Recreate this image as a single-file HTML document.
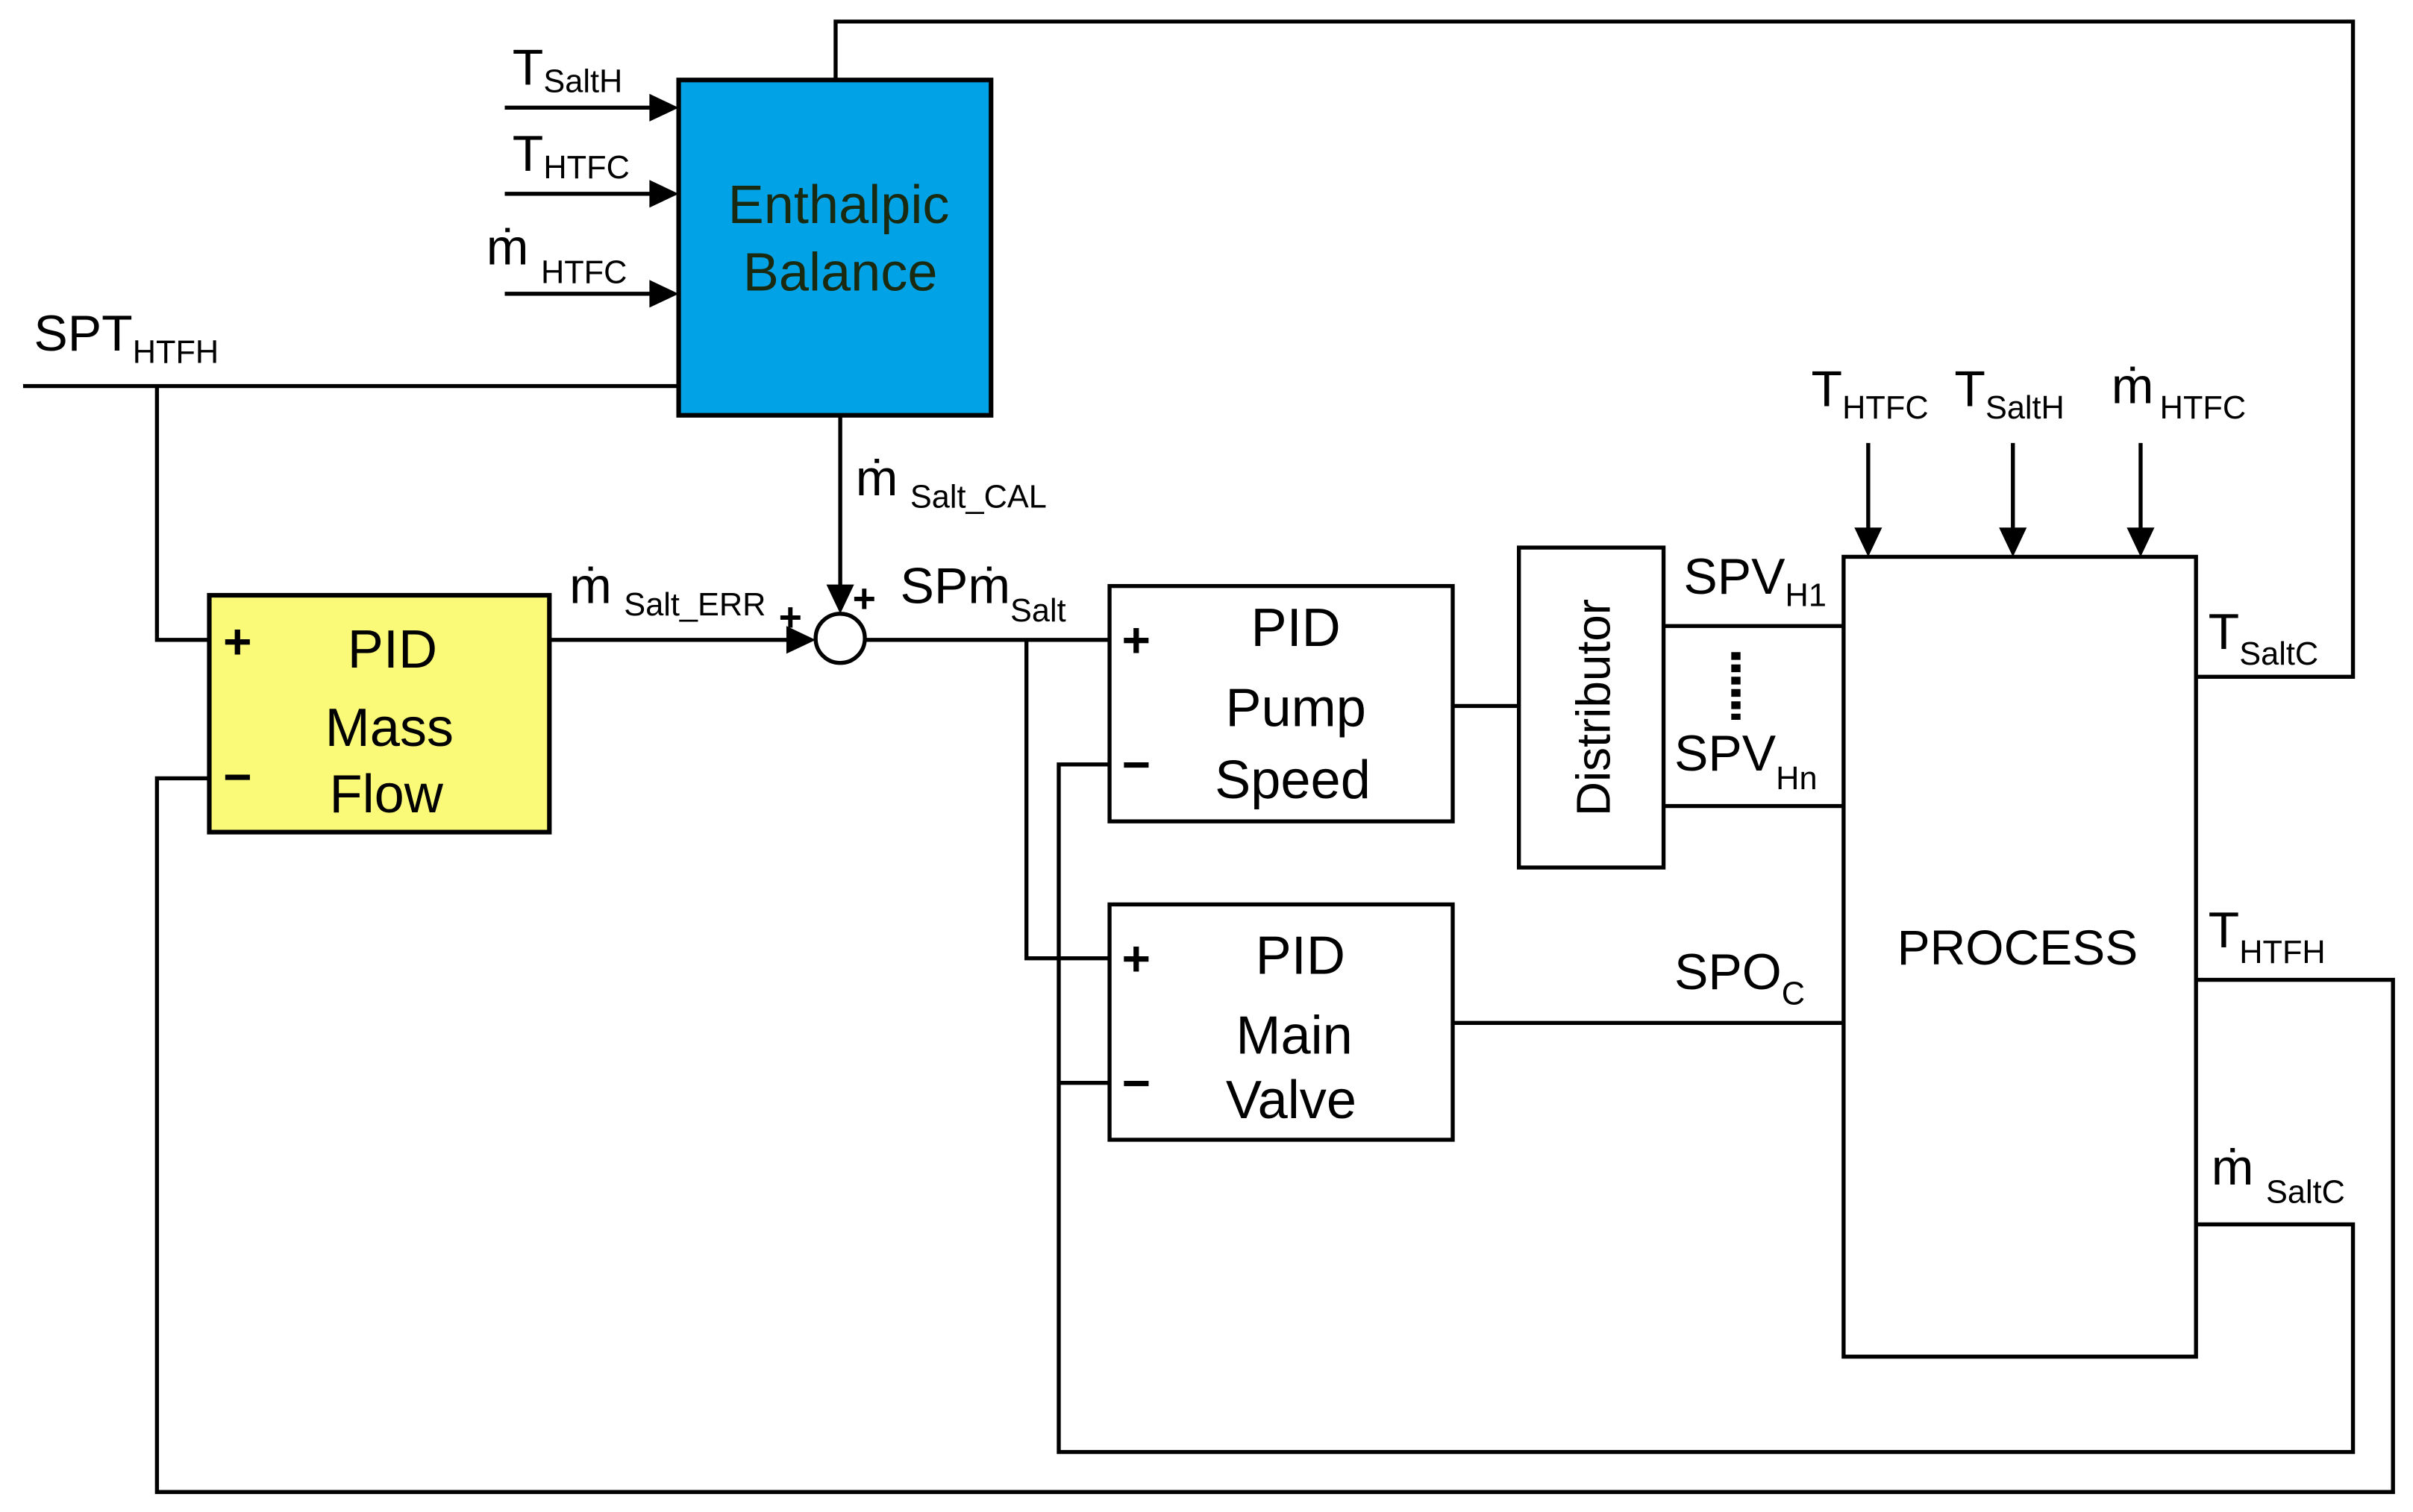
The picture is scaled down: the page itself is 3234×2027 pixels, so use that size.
<!DOCTYPE html>
<html><head><meta charset="utf-8"><style>
html,body{margin:0;padding:0;background:#fff;}
svg{display:block;}
text{font-family:"Liberation Sans",Arial,sans-serif;fill:#000;}
.b{font-size:35px;}
.s{font-size:21px;}
.l{font-size:33px;}
.p{font-size:32px;font-weight:bold;}
</style></head><body>
<svg width="3234" height="2027" viewBox="0 0 1568 983" preserveAspectRatio="none" xmlns="http://www.w3.org/2000/svg">
<g stroke="#000" stroke-width="2.6" fill="none">
<rect x="441" y="52" width="203" height="218" fill="#02a3e6" stroke-width="3"/>
<line x1="328" y1="70" x2="425" y2="70"/>
<line x1="328" y1="126" x2="425" y2="126"/>
<line x1="328" y1="191" x2="425" y2="191"/>
<line x1="15" y1="251" x2="441" y2="251"/>
<polyline points="102,251 102,416 136,416"/>
<polyline points="543,52 543,14 1529,14 1529,440 1427,440"/>
<line x1="546" y1="270" x2="546" y2="383"/>
<circle cx="546" cy="415" r="16" fill="#fff"/>
<rect x="136" y="387" width="221" height="154" fill="#fafa78" stroke-width="3"/>
<line x1="357" y1="416" x2="513" y2="416"/>
<line x1="562" y1="416" x2="721" y2="416"/>
<polyline points="667,416 667,623 721,623"/>
<rect x="721" y="381" width="223" height="153"/>
<rect x="721" y="588" width="223" height="153"/>
<line x1="944" y1="459" x2="987" y2="459"/>
<rect x="987" y="356" width="94" height="208"/>
<line x1="1081" y1="407" x2="1198" y2="407"/>
<line x1="1081" y1="524" x2="1198" y2="524"/>
<line x1="944" y1="665" x2="1198" y2="665"/>
<rect x="1198" y="362" width="229" height="520"/>
<line x1="1214" y1="288" x2="1214" y2="345"/>
<line x1="1308" y1="288" x2="1308" y2="345"/>
<line x1="1391" y1="288" x2="1391" y2="345"/>
<polyline points="1427,637 1555,637 1555,970 102,970 102,506 136,506"/>
<polyline points="1427,796 1529,796 1529,944 688,944 688,497 721,497"/>
<line x1="688" y1="704" x2="721" y2="704"/>
</g>
<line x1="1128" y1="424" x2="1128" y2="468" stroke="#000" stroke-width="6" stroke-dasharray="5,3"/>
<g fill="#000">
<polygon points="441,70 422,61 422,79"/>
<polygon points="441,126 422,117 422,135"/>
<polygon points="441,191 422,182 422,200"/>
<polygon points="546,399 537,380 555,380"/>
<polygon points="530,416 511,407 511,425"/>
<polygon points="1214,362 1205,343 1223,343"/>
<polygon points="1308,362 1299,343 1317,343"/>
<polygon points="1391,362 1382,343 1400,343"/>
</g>
<text class="b" x="545" y="145" text-anchor="middle" style="fill:#1a2a10">Enthalpic</text>
<text class="b" x="546" y="189" text-anchor="middle" style="fill:#1a2a10">Balance</text>
<text class="l" x="333" y="55">T<tspan class="s" dy="5">SaltH</tspan></text>
<text class="l" x="333" y="111">T<tspan class="s" dy="5">HTFC</tspan></text>
<text class="l" x="316" y="172">ṁ<tspan class="s" dx="8" dy="12">HTFC</tspan></text>
<text class="l" x="22" y="228">SPT<tspan class="s" dy="8">HTFH</tspan></text>
<text class="l" x="556" y="322">ṁ<tspan class="s" dx="8" dy="8">Salt_CAL</tspan></text>
<text class="l" x="370" y="392">ṁ<tspan class="s" dx="8" dy="8">Salt_ERR</tspan></text>
<text class="p" x="506" y="410" style="font-size:26px">+</text>
<text class="p" x="554" y="398" style="font-size:26px">+</text>
<text class="l" x="585" y="392">SPṁ<tspan class="s" dy="12">Salt</tspan></text>
<text class="p" x="145" y="428">+</text>
<text class="p" x="145" y="516">−</text>
<text class="b" x="255" y="434" text-anchor="middle">PID</text>
<text class="b" x="253" y="485" text-anchor="middle">Mass</text>
<text class="b" x="251" y="528" text-anchor="middle">Flow</text>
<text class="p" x="729" y="427">+</text>
<text class="p" x="729" y="508">−</text>
<text class="b" x="842" y="420" text-anchor="middle">PID</text>
<text class="b" x="842" y="472" text-anchor="middle">Pump</text>
<text class="b" x="840" y="519" text-anchor="middle">Speed</text>
<text class="p" x="729" y="634">+</text>
<text class="p" x="729" y="715">−</text>
<text class="b" x="845" y="633" text-anchor="middle">PID</text>
<text class="b" x="841" y="685" text-anchor="middle">Main</text>
<text class="b" x="839" y="727" text-anchor="middle">Valve</text>
<text class="l" x="1046" y="460" text-anchor="middle" transform="rotate(-90 1046 460)" style="font-size:31px">Distributor</text>
<text class="l" x="1094" y="386">SPV<tspan class="s" dy="8">H1</tspan></text>
<text class="l" x="1088" y="501">SPV<tspan class="s" dy="12">Hn</tspan></text>
<text class="l" x="1088" y="643">SPO<tspan class="s" dy="10">C</tspan></text>
<text class="l" x="1311" y="627" text-anchor="middle" style="font-size:32px">PROCESS</text>
<text class="l" x="1177" y="264">T<tspan class="s" dy="8">HTFC</tspan></text>
<text class="l" x="1270" y="264">T<tspan class="s" dy="8">SaltH</tspan></text>
<text class="l" x="1372" y="262">ṁ<tspan class="s" dx="4" dy="10">HTFC</tspan></text>
<text class="l" x="1435" y="422">T<tspan class="s" dy="10">SaltC</tspan></text>
<text class="l" x="1435" y="616">T<tspan class="s" dy="10">HTFH</tspan></text>
<text class="l" x="1437" y="770">ṁ<tspan class="s" dx="8" dy="12">SaltC</tspan></text>
</svg>
</body></html>
